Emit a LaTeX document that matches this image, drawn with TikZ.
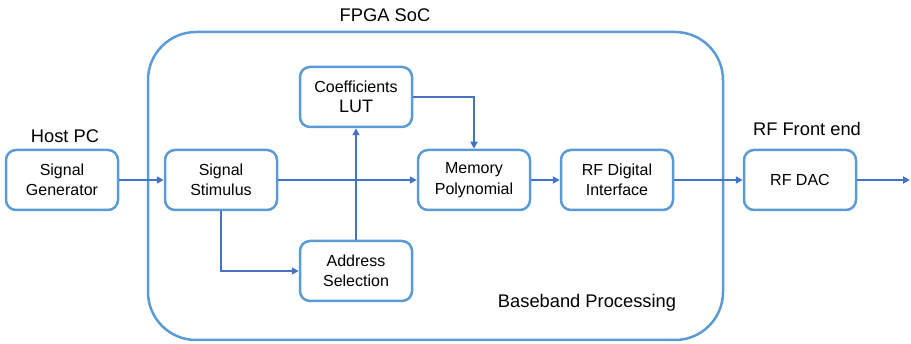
\documentclass[tikz,border=0pt]{standalone}
\usepackage{fontspec}
\setmainfont{Liberation Sans}
\usetikzlibrary{arrows.meta, positioning}

\begin{document}
\begin{tikzpicture}[x=1pt,y=-1pt,>={Triangle[length=7pt,width=7pt]},
  blk/.style={draw=c1,line width=2.5pt,rounded corners=10pt,minimum width=112pt,minimum height=60pt,
    align=center,font=\fontsize{16}{20.5}\selectfont,text=black},
  lbl/.style={font=\fontsize{18.3}{20}\selectfont},
  flow/.style={->,draw=c2,line width=2.2pt}]
\definecolor{c1}{RGB}{91,155,213}
\definecolor{c2}{RGB}{68,114,196}
\useasboundingbox (0,0) rectangle (911,344);
% FPGA SoC enclosure
\draw[c1,line width=2.5pt,rounded corners=48pt] (148,32) rectangle (723,340);
\node[lbl] (soc) at (385,15) {FPGA SoC};
\node[lbl] (bb) at (587,303) {Baseband Processing};
\node[lbl] (host) at (65,136) {Host PC};
\node[lbl] (rffe) at (807,129) {RF Front end};
% blocks
\node[blk] (gen) at (62,180) {Signal\\Generator};
\node[blk] (stim) at (221,180) {Signal\\Stimulus};
\node[blk] (lut) at (356,97) {Coefficients\\{\fontsize{18}{20}\selectfont LUT}};
\node[blk] (mem) at (474,180) {Memory\\Polynomial};
\node[blk] (rfdi) at (617,180) {RF Digital\\Interface};
\node[blk] (dac) at (800,180) {RF DAC};
\node[blk] (addr) at (356,271) {Address\\Selection};
\coordinate (out) at (910,180);
% connections
\draw[flow] (gen) -- (stim);
\draw[flow] (stim) -- (mem);
\draw[flow] (stim.south) |- (addr.west);
\draw[flow] (addr) -- (lut);
\draw[flow] (lut.east) -| (mem.north);
\draw[flow] (mem) -- (rfdi);
\draw[flow] (rfdi) -- (dac);
\draw[flow] (dac.east) -- (out);
\end{tikzpicture}
\end{document}
